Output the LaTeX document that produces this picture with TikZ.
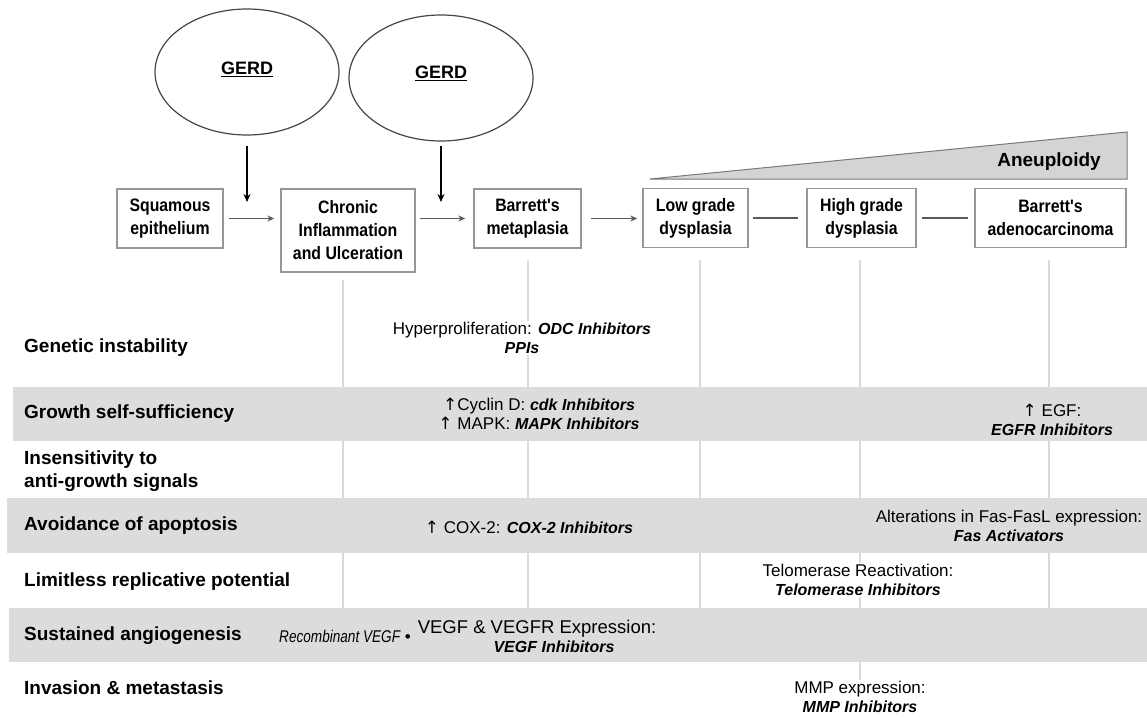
\documentclass[tikz,border=0pt]{standalone}
\usepackage{fontspec}
\setmainfont{Liberation Sans}
\newfontfamily\boxfont{Liberation Sans}[FakeStretch=0.88]
\newfontfamily\narrowfont{Liberation Sans}[FakeStretch=0.80]
\newfontfamily\symfont{DejaVu Sans}
\usetikzlibrary{shapes.geometric,arrows.meta}
\definecolor{band}{RGB}{220,220,220}
\definecolor{boxgray}{RGB}{150,150,150}
\definecolor{conngray}{RGB}{90,90,90}
\definecolor{ellgray}{RGB}{70,70,70}
\definecolor{gridgray}{RGB}{218,218,218}
\definecolor{trifill}{RGB}{212,212,212}
\definecolor{trigray}{RGB}{120,120,120}
\newcommand{\uparr}{{\symfont ↑}}
\newcommand{\drug}[1]{{\bfseries\itshape\fontsize{16}{19}\selectfont #1}}
\begin{document}
\begin{tikzpicture}[x=1pt,y=-1pt,
  stagebox/.style={draw=boxgray, line width=1.4pt, fill=white, inner sep=2pt,
    font=\boxfont\bfseries\fontsize{18}{23}\selectfont, align=center, minimum height=59pt},
  gerd/.style={ellipse, draw=ellgray, line width=1.2pt, minimum width=184pt,
    minimum height=126pt, inner sep=0pt, font=\bfseries\fontsize{18}{22}\selectfont},
  conn/.style={draw=conngray, line width=1.5pt},
  connarrow/.style={conn, -{Stealth[length=7pt,width=6pt]}},
  gerdarrow/.style={draw=black, line width=2.2pt, -{Stealth[length=8pt,width=7pt]}},
  rowlabel/.style={anchor=west, font=\bfseries\fontsize{19}{23}\selectfont, align=left, inner sep=0pt},
  cell/.style={font=\fontsize{17}{19}\selectfont, align=center, inner sep=1pt},
  gridline/.style={draw=gridgray, line width=1.3pt},
  bandfill/.style={fill=band, draw=none}]
\useasboundingbox (0,0) rectangle (1147,717);
\fill[white] (0,0) rectangle (1147,717);

% grid lines
\draw[gridline] (343,280) -- (343,608);
\draw[gridline] (528,260) -- (528,608);
\draw[gridline] (700,260) -- (700,608);
\draw[gridline] (860,260) -- (860,682);
\draw[gridline] (1049,260) -- (1049,608);

% bands
\fill[bandfill] (13,387) rectangle (1147,441);
\fill[bandfill] (7,498) rectangle (1147,553);
\fill[bandfill] (9,608) rectangle (1147,662);

% aneuploidy wedge
\draw[fill=trifill, draw=trigray, line width=1pt] (650,179) -- (1127,132) -- (1127,179) -- cycle;
\node[font=\bfseries\fontsize{19}{22}\selectfont] (aneu) at (1049,162) {Aneuploidy};

% GERD ellipses
\node[gerd] (g1) at (247,72) {\raisebox{7pt}{\underline{GERD}}};
\node[gerd] (g2) at (441,78) {\raisebox{11pt}{\underline{GERD}}};

% stage boxes
\node[stagebox, minimum width=106pt] (sq) at (170,218.5) {Squamous\\epithelium};
\node[stagebox, minimum width=134pt, minimum height=83pt] (chr) at (348,230.5) {Chronic\\Inflammation\\and Ulceration};
\node[stagebox, minimum width=107pt] (bar) at (527.5,218.5) {Barrett's\\metaplasia};
\node[stagebox, minimum width=105pt] (low) at (695.5,218) {Low grade\\dysplasia};
\node[stagebox, minimum width=109pt] (high) at (861.5,218) {High grade\\dysplasia};
\node[stagebox, minimum width=151pt] (adeno) at (1050.5,218) {Barrett's\\adenocarcinoma};

% GERD arrows
\coordinate (a1) at (247,202);
\coordinate (a2) at (441,202);
\draw[gerdarrow, shorten <=10pt] (g1.south) -- (a1);
\draw[gerdarrow, shorten <=4pt] (g2.south) -- (a2);

% stage connectors
\draw[connarrow, shorten <=5pt, shorten >=6pt] (sq.east) -- (sq.east -| chr.west);
\draw[connarrow, shorten <=4pt, shorten >=8pt] (bar.west -| chr.east) -- (bar.west);
\draw[connarrow, shorten <=9pt, shorten >=5pt] (bar.east) -- (bar.east -| low.west);
\draw[conn, shorten <=4pt, shorten >=8pt] (low.east) -- (high.west);
\draw[conn, shorten <=5pt, shorten >=6pt] (high.east) -- (adeno.west);

% row labels
\node[rowlabel] (r1) at (24,348) {Genetic instability};
\node[rowlabel] (r2) at (24,414) {Growth self-sufficiency};
\node[rowlabel] (r3) at (24,471.5) {Insensitivity to\\anti-growth signals};
\node[rowlabel] (r4) at (24,526) {Avoidance of apoptosis};
\node[rowlabel] (r5) at (24,582) {Limitless replicative potential};
\node[rowlabel] (r6) at (24,636) {Sustained angiogenesis};
\node[rowlabel] (r7) at (24,688) {Invasion \& metastasis};

% cell texts
\node[cell, fill=white] (hyper) at (522,338) {Hyperproliferation: \drug{ODC Inhibitors}\\\drug{PPIs}};
\node[cell] (cyc) at (539,414) {\uparr Cyclin D: \drug{cdk Inhibitors}\\\uparr\ MAPK: \drug{MAPK Inhibitors}};
\node[cell] (egf) at (1052,420) {\uparr\ EGF:\\\drug{EGFR Inhibitors}};
\node[cell] (cox) at (529,527) {\uparr\ COX-2: \drug{COX-2 Inhibitors}};
\node[cell] (fas) at (1009,526) {Alterations in Fas-FasL expression:\\\drug{Fas Activators}};
\node[cell, fill=white] (telo) at (858,580) {Telomerase Reactivation:\\\drug{Telomerase Inhibitors}};
\node[cell] (recomb) at (345,636) {{\narrowfont\itshape Recombinant VEGF} •};
\node[cell, font=\fontsize{18.5}{19}\selectfont] (vegf) at (537,636) {VEGF \& VEGFR Expression:\\\hspace*{34pt}\drug{VEGF Inhibitors}};
\node[cell, fill=white] (mmp) at (860,697) {MMP expression:\\\drug{MMP Inhibitors}};
\end{tikzpicture}
\end{document}
